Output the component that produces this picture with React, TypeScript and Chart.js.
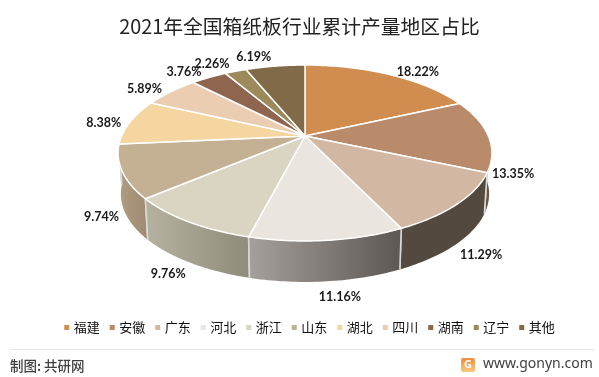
import React, { useEffect, useRef } from "react";
import { Chart, registerables } from "chart.js";

Chart.register(...registerables);

const categories = ["福建", "安徽", "广东", "河北", "浙江", "山东", "湖北", "四川", "湖南", "辽宁", "其他"];
const shares = [18.22, 13.35, 11.29, 11.16, 9.76, 9.74, 8.38, 5.89, 3.76, 2.26, 6.19];
const faceColors = ["#D18D50", "#B98B6B", "#D2B7A3", "#EBE5DF", "#D9D5C2", "#C4B093", "#F5D6A0", "#EBCDB2", "#8F6550", "#9C8A5A", "#806A47"];
const wallStart = ["#7A5232", "#8E6A50", "#54493F", "#A5A09B", "#B6B2A2", "#B09C82", "#C9AD80", "#C4A68E", "#6E4C3B", "#7C6C44", "#5F4E34"];
const wallEnd = ["#7A5232", "#6E5240", "#54493F", "#5C5753", "#8F8C7B", "#A08C74", "#C9AD80", "#C4A68E", "#6E4C3B", "#7C6C44", "#5F4E34"];
const labelNudgeX = [23, 14, 13, 11, -12, -9, -16, -19, -20, -20, -20];
const labelNudgeY = [0, 39, 5, 8, 5, 2, 2, 0, -3, -4, -6];

const CX = 305, CY = 136, RX = 183.4, RY = 84.7, K = 0.193, DEPTH = 41;

function project(a: number, r = 1) {
  const u = Math.cos(a) * r, v = Math.sin(a) * r;
  const w = 1 - K * v;
  return { x: CX + (RX * u) / w, y: CY + (RY * v) / w };
}

const pie3d = {
  id: "pie3d",
  afterLayout(chart: any) {
    // the reference's legend row sits slightly right of the canvas centre
    chart.legend.left += 11;
    chart.legend.right += 11;
    const t = chart.titleBlock;
    t.top += 3;
    t.bottom += 3;
  },
  beforeDatasetsDraw(chart: any) {
    const ctx = chart.ctx as CanvasRenderingContext2D;
    const arcs = chart.getDatasetMeta(0).data;
    ctx.save();
    // side walls
    const lo = -0.3, hi = Math.PI + 0.3;
    const order = arcs.map((_: any, i: number) => i).sort((p: number, q: number) => {
      const mp = Math.sin((arcs[p].startAngle + arcs[p].endAngle) / 2);
      const mq = Math.sin((arcs[q].startAngle + arcs[q].endAngle) / 2);
      return mp - mq;
    });
    for (const i of order) {
      const arc = arcs[i];
      const s = Math.max(arc.startAngle, lo), e = Math.min(arc.endAngle, hi);
      if (e <= s) continue;
      const top: { x: number; y: number }[] = [];
      const n = 40;
      for (let j = 0; j <= n; j++) top.push(project(s + ((e - s) * j) / n));
      const grad = ctx.createLinearGradient(top[0].x, 0, top[n].x, 0);
      grad.addColorStop(0, i < 3 ? wallStart[i] : wallEnd[i]);
      grad.addColorStop(1, i < 3 ? wallEnd[i] : wallStart[i]);
      ctx.beginPath();
      top.forEach((p, j) => (j ? ctx.lineTo(p.x, p.y) : ctx.moveTo(p.x, p.y)));
      for (let j = n; j >= 0; j--) {
        const p = top[j];
        ctx.lineTo(CX + (p.x - CX) * 0.985, p.y + DEPTH);
      }
      ctx.closePath();
      ctx.fillStyle = grad;
      ctx.fill();
      // pale seam at slice edges facing the viewer
      ctx.strokeStyle = "#D8D8D4";
      ctx.lineWidth = 1.6;
      for (const a of [arc.startAngle, arc.endAngle]) {
        if (Math.sin(a) > 0.05) {
          const p = project(a);
          ctx.beginPath();
          ctx.moveTo(p.x, p.y);
          ctx.lineTo(CX + (p.x - CX) * 0.985, p.y + DEPTH);
          ctx.stroke();
        }
      }
    }
    // top faces
    arcs.forEach((arc: any, i: number) => {
      ctx.beginPath();
      ctx.moveTo(CX, CY);
      const n = 60;
      for (let j = 0; j <= n; j++) {
        const p = project(arc.startAngle + ((arc.endAngle - arc.startAngle) * j) / n);
        ctx.lineTo(p.x, p.y);
      }
      ctx.closePath();
      ctx.fillStyle = faceColors[i];
      ctx.fill();
      ctx.strokeStyle = "#FFFFFF";
      ctx.lineWidth = 1.5;
      ctx.lineJoin = "round";
      ctx.stroke();
    });
    // value labels
    ctx.font = 'bold 12.5px Lato';
    ctx.fillStyle = "#1A1A1A";
    ctx.textAlign = "center";
    ctx.textBaseline = "middle";
    arcs.forEach((arc: any, i: number) => {
      const a = (arc.startAngle + arc.endAngle) / 2;
      const p = project(a, 1.06);
      const y = p.y + (Math.sin(a) > 0.1 ? DEPTH : 0) + labelNudgeY[i];
      ctx.fillText(shares[i].toFixed(2) + "%", p.x + labelNudgeX[i], y);
    });
    ctx.restore();
    return false;
  },
};

const footer = {
  id: "footer",
  afterDraw(chart: any) {
    const ctx = chart.ctx as CanvasRenderingContext2D;
    ctx.save();
    ctx.strokeStyle = "#E6E6E6";
    ctx.lineWidth = 1;
    ctx.beginPath();
    ctx.moveTo(10, 349.5);
    ctx.lineTo(594, 349.5);
    ctx.stroke();
    ctx.fillStyle = "#404040";
    ctx.textBaseline = "middle";
    ctx.textAlign = "left";
    ctx.font = '500 13.5px "Noto Sans CJK SC"';
    ctx.fillText("制图: 共研网", 10, 366);
    ctx.font = '14px "Noto Sans"';
    ctx.fillText("www.gonyn.com", 483, 364.5);
    const g = ctx.createLinearGradient(0, 358, 0, 372);
    g.addColorStop(0, "#F08B3C");
    g.addColorStop(1, "#F9C97E");
    ctx.fillStyle = g;
    ctx.beginPath();
    ctx.roundRect(461, 358, 14, 14, 2);
    ctx.fill();
    ctx.fillStyle = "#FFFFFF";
    ctx.font = 'bold 11px "Noto Sans"';
    ctx.textAlign = "center";
    ctx.fillText("G", 468, 365);
    ctx.restore();
  },
};

export default function App() {
  const ref = useRef<HTMLCanvasElement>(null);
  useEffect(() => {
    const chart = new Chart(ref.current!, {
      type: "pie",
      data: {
        labels: categories,
        datasets: [{ data: shares, backgroundColor: faceColors, borderWidth: 0 }],
      },
      options: {
        animation: false,
        responsive: false,
        layout: { padding: { bottom: 33 } },
        plugins: {
          title: {
            display: true,
            text: "2021年全国箱纸板行业累计产量地区占比",
            font: { family: '"Noto Sans CJK SC"', size: 19.8, weight: "normal" },
            color: "#222222",
            padding: { top: 12, bottom: 8 },
          },
          legend: {
            position: "bottom",
            labels: {
              usePointStyle: true,
              pointStyle: "rect",
              boxWidth: 1,
              boxHeight: 5,
              padding: 12,
              color: "#111111",
              font: { family: '"Noto Sans CJK SC"', size: 13 },
            },
          },
          tooltip: { enabled: false },
        },
      },
      plugins: [pie3d, footer],
    } as any);
    return () => chart.destroy();
  }, []);
  return (
    <div style={{ position: "fixed", left: 0, top: 0, width: 599, height: 377, background: "#fff" }}>
      <canvas ref={ref} width={599} height={377} style={{ display: "block" }} />
    </div>
  );
}
